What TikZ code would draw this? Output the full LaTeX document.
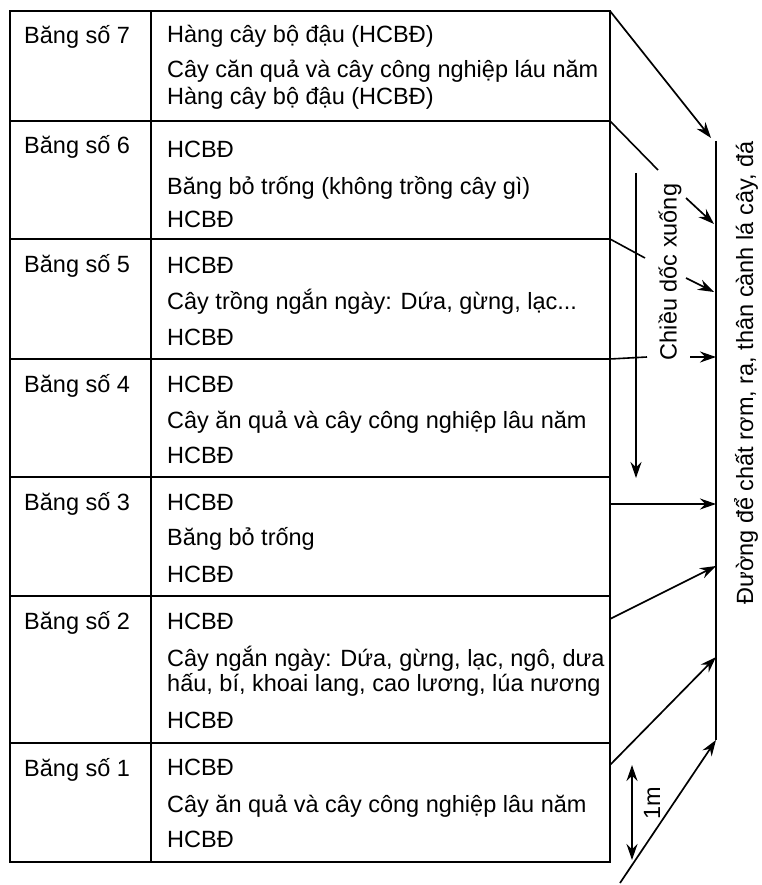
\documentclass[tikz,border=0pt]{standalone}
\usepackage{fontspec}
\setmainfont{Liberation Sans}
\usetikzlibrary{arrows.meta}
\usetikzlibrary{positioning,calc}
\tikzset{
    cell/.style={
        draw,
        rectangle,
        line width=1.6pt,
        inner sep=0pt,
        outer sep=0pt,
        anchor=north west
    },
    txt/.style={
        anchor=base west,
        inner sep=0pt,
        font=\fontsize{23.5}{28}\selectfont
    },
    vtxt/.style={
        rotate=90,
        inner sep=0pt,
        font=\fontsize{23.5}{28}\selectfont
    },
    flow/.style={
        draw,
        line width=1.7pt,
        -{Stealth[length=16pt, width=11pt]}
    }
}

\begin{document}
\begin{tikzpicture}[x=1pt, y=-1pt]
    \useasboundingbox (0,0) rectangle (762,885);

    % the seven bands
    \foreach \n/\t/\h in {7/11/110, 6/121/118, 5/239/120, 4/359/118, 3/477/119, 2/596/147, 1/743/119}{
        \node[cell, minimum width=141pt, minimum height=\h pt] (l\n) at (10,\t) {};
        \node[cell, minimum width=459pt, minimum height=\h pt] (c\n) at (151,\t) {};
        \node[txt] (s\n) at (24,{\t+33}) {Băng số \n};
    }

    \node[txt] (t7a) at (167,43) {Hàng cây bộ đậu (HCBĐ)};
    \node[txt] (t7b) at (167,78) {Cây căn quả và cây công nghiệp láu năm};
    \node[txt] (t7c) at (167,105) {Hàng cây bộ đậu (HCBĐ)};

    \node[txt] (t6a) at (167,158) {HCBĐ};
    \node[txt] (t6b) at (167,195) {Băng bỏ trống (không trồng cây gì)};
    \node[txt] (t6c) at (167,228) {HCBĐ};

    \node[txt] (t5a) at (167,273) {HCBĐ};
    \node[txt] (t5b) at (167,309) {Cây trồng ngắn ngày: Dứa, gừng, lạc...};
    \node[txt] (t5c) at (167,345) {HCBĐ};

    \node[txt] (t4a) at (167,392) {HCBĐ};
    \node[txt] (t4b) at (167,428) {Cây ăn quả và cây công nghiệp lâu năm};
    \node[txt] (t4c) at (167,463) {HCBĐ};

    \node[txt] (t3a) at (167,510) {HCBĐ};
    \node[txt] (t3b) at (167,545) {Băng bỏ trống};
    \node[txt] (t3c) at (167,582) {HCBĐ};

    \node[txt] (t2a) at (167,629) {HCBĐ};
    \node[txt] (t2b) at (167,666) {Cây ngắn ngày: Dứa, gừng, lạc, ngô, dưa};
    \node[txt] (t2c) at (167,691) {hấu, bí, khoai lang, cao lương, lúa nương};
    \node[txt] (t2d) at (167,728) {HCBĐ};

    \node[txt] (t1a) at (167,775) {HCBĐ};
    \node[txt] (t1b) at (167,812) {Cây ăn quả và cây công nghiệp lâu năm};
    \node[txt] (t1c) at (167,847) {HCBĐ};

    % road for straw and stones
    \coordinate (rtop) at (716,141);
    \coordinate (rbot) at (716,740);
    \draw[line width=2pt] (rtop) -- (rbot);
    \node[vtxt] (road) at (746,373) {Đường để chất rơm, rạ, thân cành lá cây, đá};

    \coordinate (e7) at (711,138);
    \coordinate (k6) at (658,170);
    \coordinate (k6b) at (686,198);
    \coordinate (e6) at (714,224);
    \coordinate (k5) at (645,258);
    \coordinate (k5b) at (686,278);
    \coordinate (e5) at (714,292);
    \coordinate (k4) at (647,357);
    \coordinate (k4b) at (690,357);
    \coordinate (e4) at (716,357);
    \coordinate (o3) at (610,504);
    \coordinate (e3) at (716,504);
    \coordinate (o2) at (610,619);
    \coordinate (e2) at (716,566);
    \coordinate (o1) at (610,765);
    \coordinate (e1) at (716,657);
    \coordinate (o0) at (620,883);

    \draw[flow] (c7.north east) -- (e7);
    \draw[line width=1.6pt] (c6.north east) -- (k6);
    \draw[flow] (k6b) -- (e6);
    \draw[line width=1.6pt] (c5.north east) -- (k5);
    \draw[flow] (k5b) -- (e5);
    \draw[line width=1.6pt] (c4.north east) -- (k4);
    \draw[flow] (k4b) -- (e4);
    \draw[flow] (o3) -- (e3);
    \draw[flow] (o2) -- (e2);
    \draw[flow] (o1) -- (e1);
    \draw[flow] (o0) -- (rbot);

    % slope direction
    \coordinate (dtop) at (636,173);
    \coordinate (dbot) at (636,478);
    \draw[flow] (dtop) -- (dbot);
    \node[vtxt] (slope) at (670,272) {Chiều dốc xuống};

    % one metre
    \coordinate (m1) at (632,765);
    \coordinate (m2) at (632,860);
    \draw[flow, {Stealth[length=16pt, width=11pt]}-{Stealth[length=16pt, width=11pt]}] (m1) -- (m2);
    \node[vtxt] (metre) at (652,803) {1m};
\end{tikzpicture}
\end{document}
